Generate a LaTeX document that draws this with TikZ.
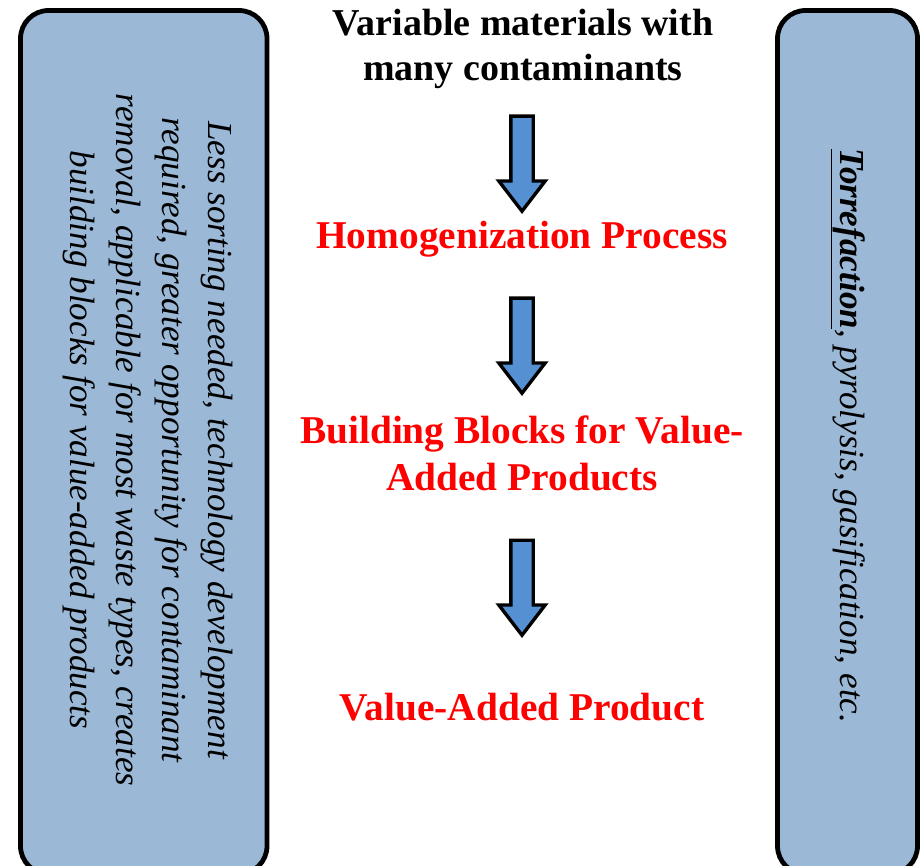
\documentclass[tikz,border=0pt]{standalone}
\usepackage{fontspec}
\setmainfont{Liberation Serif}
\usepackage{tikz}
\usetikzlibrary{shapes,shapes.arrows}
\definecolor{sidefill}{RGB}{155,185,214}
\definecolor{arrowfill}{RGB}{85,145,210}
\definecolor{flowred}{RGB}{255,0,0}
\tikzstyle{side box}=[draw=black,line width=3.4pt,rounded corners=0.7cm,fill=sidefill]
\tikzstyle{side text}=[rotate=-90,align=center,font=\fontsize{25}{32.7}\selectfont\itshape]
\tikzstyle{flow text}=[anchor=base,align=center,text=flowred,font=\fontsize{28}{33.4}\selectfont\bfseries]
\tikzstyle{down arrow}=[shape=single arrow,draw=black,line width=2.4pt,fill=arrowfill,rotate=-90,anchor=tail,inner xsep=0pt,inner ysep=0.2375cm,single arrow head extend=0.3cm,single arrow tip angle=75,minimum height=2.375cm,minimum width=1.075cm]

\begin{document}
\begin{tikzpicture}[x=0.025cm,y=-0.025cm]
\useasboundingbox (0,0) rectangle (920,866);
\clip (0,0) rectangle (920,866);
\draw[side box] (20.5,10.5) rectangle (267,874);
\draw[side box] (777.5,10.5) rectangle (917.5,874);
\node[side text] (benefits) at (148,440) {Less sorting needed, technology development\\required, greater opportunity for contaminant\\removal, applicable for most waste types, creates\\building blocks for value-added products};
\node[side text] (thermal) at (848,436) {\underline{\textbf{Torrefaction}}, pyrolysis, gasification, etc.};
\node[anchor=base,align=center,font=\fontsize{27}{32.7}\selectfont\bfseries] (source) at (523,81) {Variable materials with\\many contaminants};
\node[flow text] (homog) at (522,249) {Homogenization Process};
\node[flow text] (blocks) at (522,490) {Building Blocks for Value-\\Added Products};
\node[flow text] (product) at (522,720) {Value-Added Product};
\node[down arrow] (arr1) at (522,114.5) {};
\node[down arrow] (arr2) at (522,296.5) {};
\node[down arrow] (arr3) at (522,538.5) {};
\end{tikzpicture}
\end{document}
